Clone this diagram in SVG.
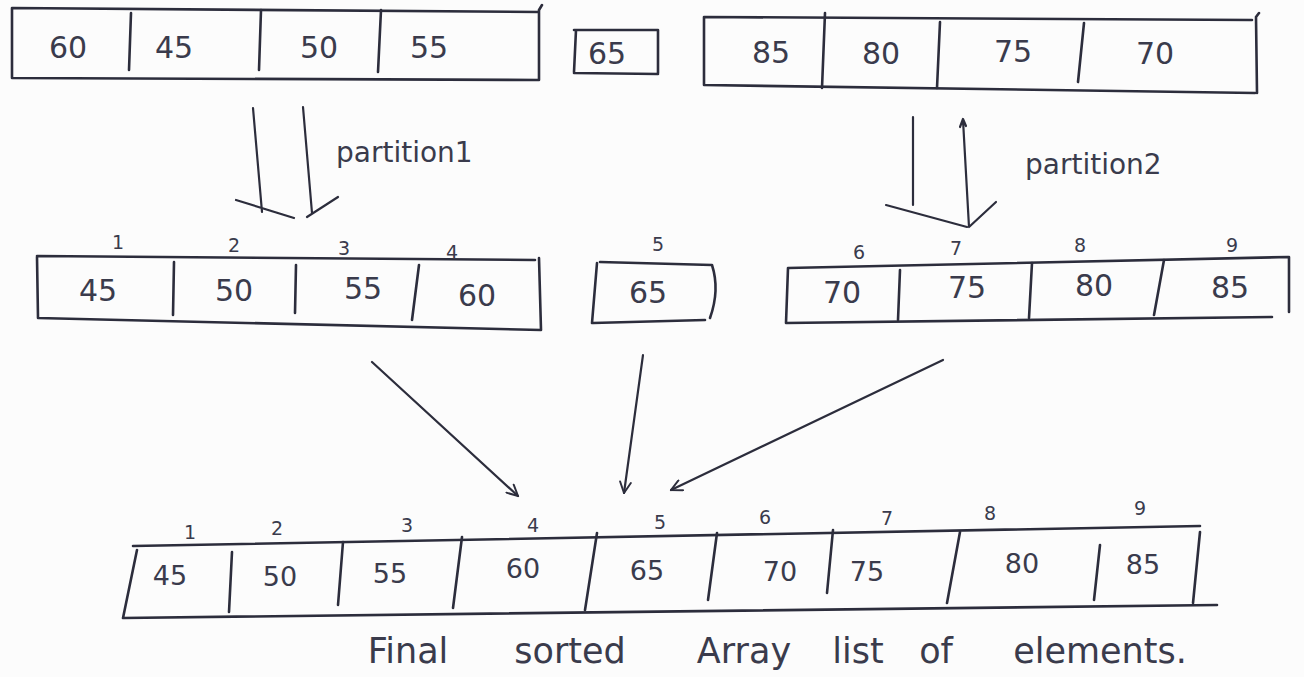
<svg xmlns="http://www.w3.org/2000/svg" width="1304" height="677" viewBox="0 0 1304 677">
<defs>
<style>
.bx{fill:none;stroke:#2c2d3c;stroke-width:2.6;stroke-linecap:round;stroke-linejoin:round}
.cn{fill:none;stroke:#2c2d3c;stroke-width:2.2;stroke-linecap:round;stroke-linejoin:round}
.v{font-family:"DejaVu Sans","Liberation Sans",sans-serif;font-size:30px;fill:#3a3b4c;text-anchor:middle}
.vs{font-family:"DejaVu Sans","Liberation Sans",sans-serif;font-size:27px;fill:#3a3b4c;text-anchor:middle}
.ix{font-family:"DejaVu Sans","Liberation Sans",sans-serif;font-size:19px;fill:#3a3b4c;text-anchor:middle}
.lb{font-family:"DejaVu Sans","Liberation Sans",sans-serif;font-size:28px;fill:#3a3b4c}
.cap{font-family:"DejaVu Sans","Liberation Sans",sans-serif;font-size:35px;fill:#3a3b4c;text-anchor:middle}
</style>
<marker id="ah" viewBox="0 0 12 12" refX="11" refY="6" markerWidth="13" markerHeight="13" markerUnits="userSpaceOnUse" orient="auto">
<path d="M1,1 L11,6 L1,11" fill="none" stroke="#2c2d3c" stroke-width="1.8" stroke-linecap="round"/>
</marker>
</defs>
<rect width="1304" height="677" fill="#fcfcfc"/>

<g id="top-left-array">
<path class="bx" d="M12,8 L539,12 M12,8 L12,78 L539,80 L539,10 L542,5"/>
<path class="bx" d="M131,13 L129,70 M261,10 L259,70 M381,10 L378,72"/>
<text class="v" x="68" y="58">60</text>
<text class="v" x="174" y="58">45</text>
<text class="v" x="319" y="58">50</text>
<text class="v" x="429" y="58">55</text>
</g>

<g id="top-pivot">
<path class="bx" d="M576,30 L574,72 M574,30 L658,30 L658,73 M574,73 L658,74"/>
<text class="v" x="607" y="64">65</text>
</g>

<g id="top-right-array">
<path class="bx" d="M704,17 L1252,20 M704,17 L704,85 L1255,93 M1257,93 L1256,17 L1259,13"/>
<path class="bx" d="M825,13 L822,88 M940,22 L937,88 M1084,23 L1078,82"/>
<text class="v" x="771" y="63">85</text>
<text class="v" x="881" y="64">80</text>
<text class="v" x="1013" y="62">75</text>
<text class="v" x="1155" y="64">70</text>
</g>

<g id="mid-left-array">
<path class="bx" d="M37,256 L535,260 M37,257 L38,318 L541,330 L539,258"/>
<path class="bx" d="M174,262 L173,315 M296,265 L295,313 M419,265 L412,320"/>
<text class="ix" x="118" y="249">1</text>
<text class="ix" x="234" y="252">2</text>
<text class="ix" x="344" y="255">3</text>
<text class="ix" x="452" y="259">4</text>
<text class="v" x="98" y="301">45</text>
<text class="v" x="234" y="301">50</text>
<text class="v" x="363" y="299">55</text>
<text class="v" x="477" y="306">60</text>
</g>

<g id="mid-pivot">
<path class="bx" d="M597,263 L592,323 M600,262 L712,265 Q720,290 710,318 M593,323 L705,320"/>
<text class="ix" x="658" y="251">5</text>
<text class="v" x="648" y="303">65</text>
</g>

<g id="mid-right-array">
<path class="bx" d="M788,268 L1288,257 M788,268 L786,323 L1272,317 M1289,257 L1289,312"/>
<path class="bx" d="M900,270 L898,320 M1032,263 L1029,318 M1164,260 L1154,315"/>
<text class="ix" x="859" y="259">6</text>
<text class="ix" x="956" y="255">7</text>
<text class="ix" x="1080" y="252">8</text>
<text class="ix" x="1232" y="252">9</text>
<text class="v" x="842" y="303">70</text>
<text class="v" x="967" y="298">75</text>
<text class="v" x="1094" y="296">80</text>
<text class="v" x="1230" y="298">85</text>
</g>

<g id="final-array">
<path class="bx" d="M133,546 L1200,526 M137,550 L123,618 L1217,605 M1200,532 L1193,603"/>
<path class="bx" d="M232,552 L229,612 M343,542 L338,605 M462,537 L453,608 M597,533 L585,610 M717,533 L708,600 M833,530 L827,593 M960,532 L947,603 M1100,545 L1094,600"/>
<text class="ix" x="190" y="539">1</text>
<text class="ix" x="277" y="535">2</text>
<text class="ix" x="407" y="532">3</text>
<text class="ix" x="533" y="532">4</text>
<text class="ix" x="660" y="529">5</text>
<text class="ix" x="765" y="524">6</text>
<text class="ix" x="887" y="525">7</text>
<text class="ix" x="990" y="520">8</text>
<text class="ix" x="1140" y="515">9</text>
<text class="vs" x="170" y="585">45</text>
<text class="vs" x="280" y="586">50</text>
<text class="vs" x="390" y="583">55</text>
<text class="vs" x="523" y="578">60</text>
<text class="vs" x="647" y="580">65</text>
<text class="vs" x="780" y="581">70</text>
<text class="vs" x="867" y="581">75</text>
<text class="vs" x="1022" y="573">80</text>
<text class="vs" x="1143" y="574">85</text>
<text class="cap" y="663"><tspan x="408">Final</tspan><tspan x="570">sorted</tspan><tspan x="744">Array</tspan><tspan x="858">list</tspan><tspan x="936">of</tspan><tspan x="1100">elements.</tspan></text>
</g>

<g id="connectors">
<path class="cn" d="M253,108 L262,212 M303,107 L312,213 M236,200 L294,218 M338,197 L307,217"/>
<text class="lb" x="336" y="162">partition1</text>
<path class="cn" d="M913,117 L913,205 M963,120 L969,227 M960,127 L963,119 L966,126 M886,205 L967,227 M996,202 L969,227"/>
<text class="lb" x="1025" y="174">partition2</text>
<path class="cn" d="M372,362 L518,496" marker-end="url(#ah)"/>
<path class="cn" d="M643,355 L624,493" marker-end="url(#ah)"/>
<path class="cn" d="M943,360 L671,490" marker-end="url(#ah)"/>
</g>
</svg>
